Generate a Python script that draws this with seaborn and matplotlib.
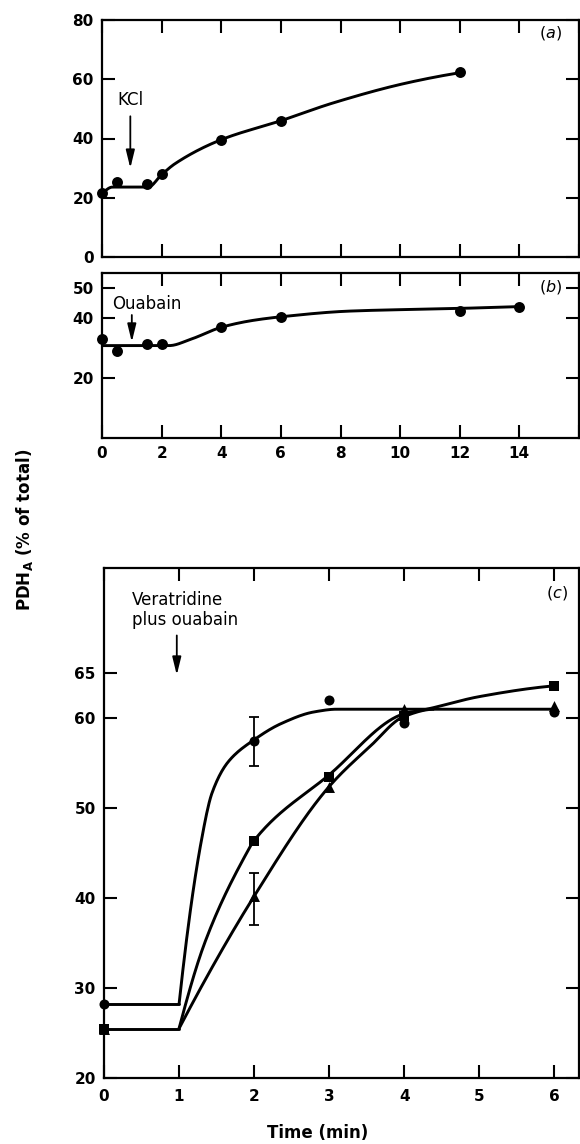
import numpy as np
import pandas as pd
import matplotlib
matplotlib.use("Agg")
import matplotlib.pyplot as plt
import seaborn as sns

# ---------------- data ----------------
# Panel (a): KCl
a_time = [0, 0.5, 1.5, 2, 4, 6, 12]
a_pdh = [21.5, 25.3, 24.5, 28.0, 39.6, 46.0, 62.6]
a_curve_t = [0, 0.35, 1.55, 2.0, 2.45, 4, 6, 7.75, 10.2, 12]
a_curve_y = [21.5, 23.6, 23.6, 27.8, 31.5, 39.6, 46.0, 52.0, 58.7, 62.2]

# Panel (b): ouabain
b_time = [0, 0.5, 1.5, 2, 4, 6, 12, 14]
b_pdh = [33.1, 29.0, 31.2, 31.2, 36.9, 40.2, 42.4, 43.8]
b_curve_t = [0, 2.25, 3, 4, 5, 6, 8.3, 12, 14]
b_curve_y = [30.8, 30.8, 33.0, 36.9, 39.1, 40.4, 42.3, 43.2, 43.8]

# Panel (c): veratridine plus ouabain
c_time = [0, 2, 3, 4, 6]
c_circle = [28.2, 57.5, 62.0, 59.5, 60.7]
c_square = [25.5, 46.3, 53.5, 60.3, 63.6]
c_triangle = [25.4, 40.2, 52.4, 61.0, 61.4]
c_circle_err_t = [2]
c_circle_err_y = [57.4]
c_circle_err = [2.75]
c_triangle_err_t = [2]
c_triangle_err_y = [39.9]
c_triangle_err = [2.85]

c_circle_base = [28.2, 28.2]
c_low_base = [25.5, 25.5]
c_base_t = [0, 1]
c_circ_curve_t = [1, 1.3, 1.44, 1.66, 2.0, 2.36, 2.8, 3.1, 6.0]
c_circ_curve_y = [28.2, 46.5, 51.7, 55.2, 57.6, 59.4, 60.7, 61.0, 61.0]
c_sq_curve_t = [1, 1.35, 1.9, 2.0, 3.0, 4.0, 4.3, 5.0, 6.0]
c_sq_curve_y = [25.5, 35.2, 45.0, 46.4, 53.7, 60.5, 61.0, 62.4, 63.6]
c_tri_curve_t = [1, 2, 3, 3.55, 4.0, 4.4]
c_tri_curve_y = [25.5, 40.2, 52.4, 56.9, 60.2, 61.0]


def pchip(x, y, xs):
    x = np.asarray(x, float)
    y = np.asarray(y, float)
    h = np.diff(x)
    d = np.diff(y) / h
    n = len(x)
    m = np.zeros(n)
    if n == 2:
        m[:] = d[0]
    else:
        for k in range(1, n - 1):
            if d[k - 1] * d[k] <= 0:
                m[k] = 0.0
            else:
                w1 = 2 * h[k] + h[k - 1]
                w2 = h[k] + 2 * h[k - 1]
                m[k] = (w1 + w2) / (w1 / d[k - 1] + w2 / d[k])

        def endslope(h0, h1, d0, d1):
            s = ((2 * h0 + h1) * d0 - h0 * d1) / (h0 + h1)
            if np.sign(s) != np.sign(d0):
                s = 0.0
            elif np.sign(d0) != np.sign(d1) and abs(s) > abs(3 * d0):
                s = 3 * d0
            return s

        m[0] = endslope(h[0], h[1], d[0], d[1])
        m[-1] = endslope(h[-1], h[-2], d[-1], d[-2])
    idx = np.clip(np.searchsorted(x, xs, side="right") - 1, 0, n - 2)
    t = (xs - x[idx]) / h[idx]
    h00 = 2 * t**3 - 3 * t**2 + 1
    h10 = t**3 - 2 * t**2 + t
    h01 = -2 * t**3 + 3 * t**2
    h11 = t**3 - t**2
    return h00 * y[idx] + h10 * h[idx] * m[idx] + h01 * y[idx + 1] + h11 * h[idx] * m[idx + 1]


def smooth_line(ax, kt, ky, lw=2.1):
    xs = np.linspace(kt[0], kt[-1], 300)
    ys = pchip(kt, ky, xs)
    sns.lineplot(x=xs, y=ys, ax=ax, color="black", lw=lw, sort=False,
                 estimator=None, solid_capstyle="butt")


sns.set_theme(style="ticks")
plt.rcParams["font.family"] = ["DejaVu Sans"]
plt.rcParams["mathtext.fontset"] = "dejavusans"
plt.rcParams["mathtext.default"] = "regular"
plt.rcParams["text.color"] = "black"
plt.rcParams["axes.labelcolor"] = "black"
plt.rcParams["xtick.color"] = "black"
plt.rcParams["ytick.color"] = "black"

W, H = 580, 1144
fig = plt.figure(figsize=(W / 100, H / 100), dpi=100)
fig.patch.set_facecolor("white")


def box(left, top, right, bottom):
    return [left / W, 1 - bottom / H, (right - left) / W, (bottom - top) / H]


ax_a = fig.add_axes(box(102, 20, 579, 257))
ax_b = fig.add_axes(box(102, 273, 579, 438))
ax_c = fig.add_axes(box(104, 568, 579, 1078))

TICKFS = 11


def style(ax):
    for s in ax.spines.values():
        s.set_linewidth(1.6)
        s.set_color("black")
    ax.tick_params(direction="in", length=9.5, width=1.5, top=True, right=True,
                   labelsize=TICKFS, pad=6, colors="black")
    for lab in ax.get_xticklabels() + ax.get_yticklabels():
        lab.set_fontweight("bold")
    ax.set_xlabel("")
    ax.set_ylabel("")
    ax.set_facecolor("white")


ARROW = dict(arrowstyle="-|>,head_length=0.9,head_width=0.22",
             color="black", lw=1.3, shrinkA=0, shrinkB=0)

# ---------------- panel (a) ----------------
smooth_line(ax_a, a_curve_t, a_curve_y)
sns.scatterplot(x=a_time, y=a_pdh, ax=ax_a, color="black", s=62, linewidth=0,
                marker="o", zorder=5, clip_on=False)
ax_a.set_xlim(0, 16)
ax_a.set_ylim(0, 80)
ax_a.set_xticks(np.arange(0, 17, 2))
ax_a.set_xticklabels([])
ax_a.set_yticks([0, 20, 40, 60, 80])
ax_a.set_yticklabels(["0", "20", "40", "60", "80"])
style(ax_a)
ax_a.annotate("", xy=(0.95, 30.0), xytext=(0.95, 47.5), arrowprops=ARROW)
ax_a.text(0.95, 53, "KCl", ha="center", va="center", fontsize=12, color="black")
ax_a.text(15.05, 75.6, r"($\it{a}$)", ha="center", va="center", fontsize=11.5,
          color="black")

# ---------------- panel (b) ----------------
smooth_line(ax_b, b_curve_t, b_curve_y)
sns.scatterplot(x=b_time, y=b_pdh, ax=ax_b, color="black", s=62, linewidth=0,
                marker="o", zorder=5, clip_on=False)
ax_b.set_xlim(0, 16)
ax_b.set_ylim(0, 55)
ax_b.set_xticks(np.arange(0, 17, 2))
ax_b.set_xticklabels([str(v) for v in range(0, 15, 2)] + [""])
ax_b.set_yticks([20, 40, 50])
ax_b.set_yticklabels(["20", "40", "50"])
style(ax_b)
ax_b.annotate("", xy=(1.0, 32.0), xytext=(1.0, 41.0), arrowprops=ARROW)
ax_b.text(0.33, 44.8, "Ouabain", ha="left", va="center", fontsize=12, color="black")
ax_b.text(15.05, 50.3, r"($\it{b}$)", ha="center", va="center", fontsize=11.5,
          color="black")

# ---------------- panel (c) ----------------
sns.lineplot(x=c_base_t, y=c_circle_base, ax=ax_c, color="black", lw=2.1,
             estimator=None, sort=False)
sns.lineplot(x=c_base_t, y=c_low_base, ax=ax_c, color="black", lw=2.1,
             estimator=None, sort=False)
smooth_line(ax_c, c_circ_curve_t, c_circ_curve_y)
smooth_line(ax_c, c_sq_curve_t, c_sq_curve_y)
smooth_line(ax_c, c_tri_curve_t, c_tri_curve_y)
ax_c.errorbar(c_circle_err_t, c_circle_err_y, yerr=c_circle_err, fmt="none",
              ecolor="black", elinewidth=1.3, capsize=3.5, capthick=1.3)
ax_c.errorbar(c_triangle_err_t, c_triangle_err_y, yerr=c_triangle_err, fmt="none",
              ecolor="black", elinewidth=1.3, capsize=3.5, capthick=1.3)
sns.scatterplot(x=c_time, y=c_triangle, ax=ax_c, color="black", s=62, linewidth=0,
                marker="^", zorder=5, clip_on=False)
sns.scatterplot(x=c_time, y=c_square, ax=ax_c, color="black", s=50, linewidth=0,
                marker="s", zorder=5, clip_on=False)
sns.scatterplot(x=c_time, y=c_circle, ax=ax_c, color="black", s=52, linewidth=0,
                marker="o", zorder=5, clip_on=False)
ax_c.set_xlim(0, 6.33)
ax_c.set_ylim(20, 76.7)
ax_c.set_xticks(range(0, 7))
ax_c.set_xticklabels([str(v) for v in range(0, 7)])
ax_c.set_yticks([20, 30, 40, 50, 60, 65])
ax_c.set_yticklabels(["20", "30", "40", "50", "60", "65"])
style(ax_c)
ax_c.tick_params(axis="x", pad=8)
ax_c.annotate("", xy=(0.97, 64.8), xytext=(0.97, 69.2), arrowprops=ARROW)
ax_c.text(0.37, 72.0, "Veratridine\nplus ouabain", ha="left", va="center",
          fontsize=12, linespacing=1.15, color="black")
ax_c.text(6.03, 73.9, r"($\it{c}$)", ha="center", va="center", fontsize=11.5,
          color="black")

# ---------------- shared labels ----------------
fig.text(25 / W, 1 - 530 / H, r"PDH$_{A}$ (% of total)", rotation=90,
         ha="center", va="center", fontsize=12, fontweight="bold", color="black")
fig.text(318 / W, 1 - 1133 / H, "Time (min)", ha="center", va="center",
         fontsize=12, fontweight="bold", color="black")

fig.savefig("out.png", dpi=100, facecolor="white")
